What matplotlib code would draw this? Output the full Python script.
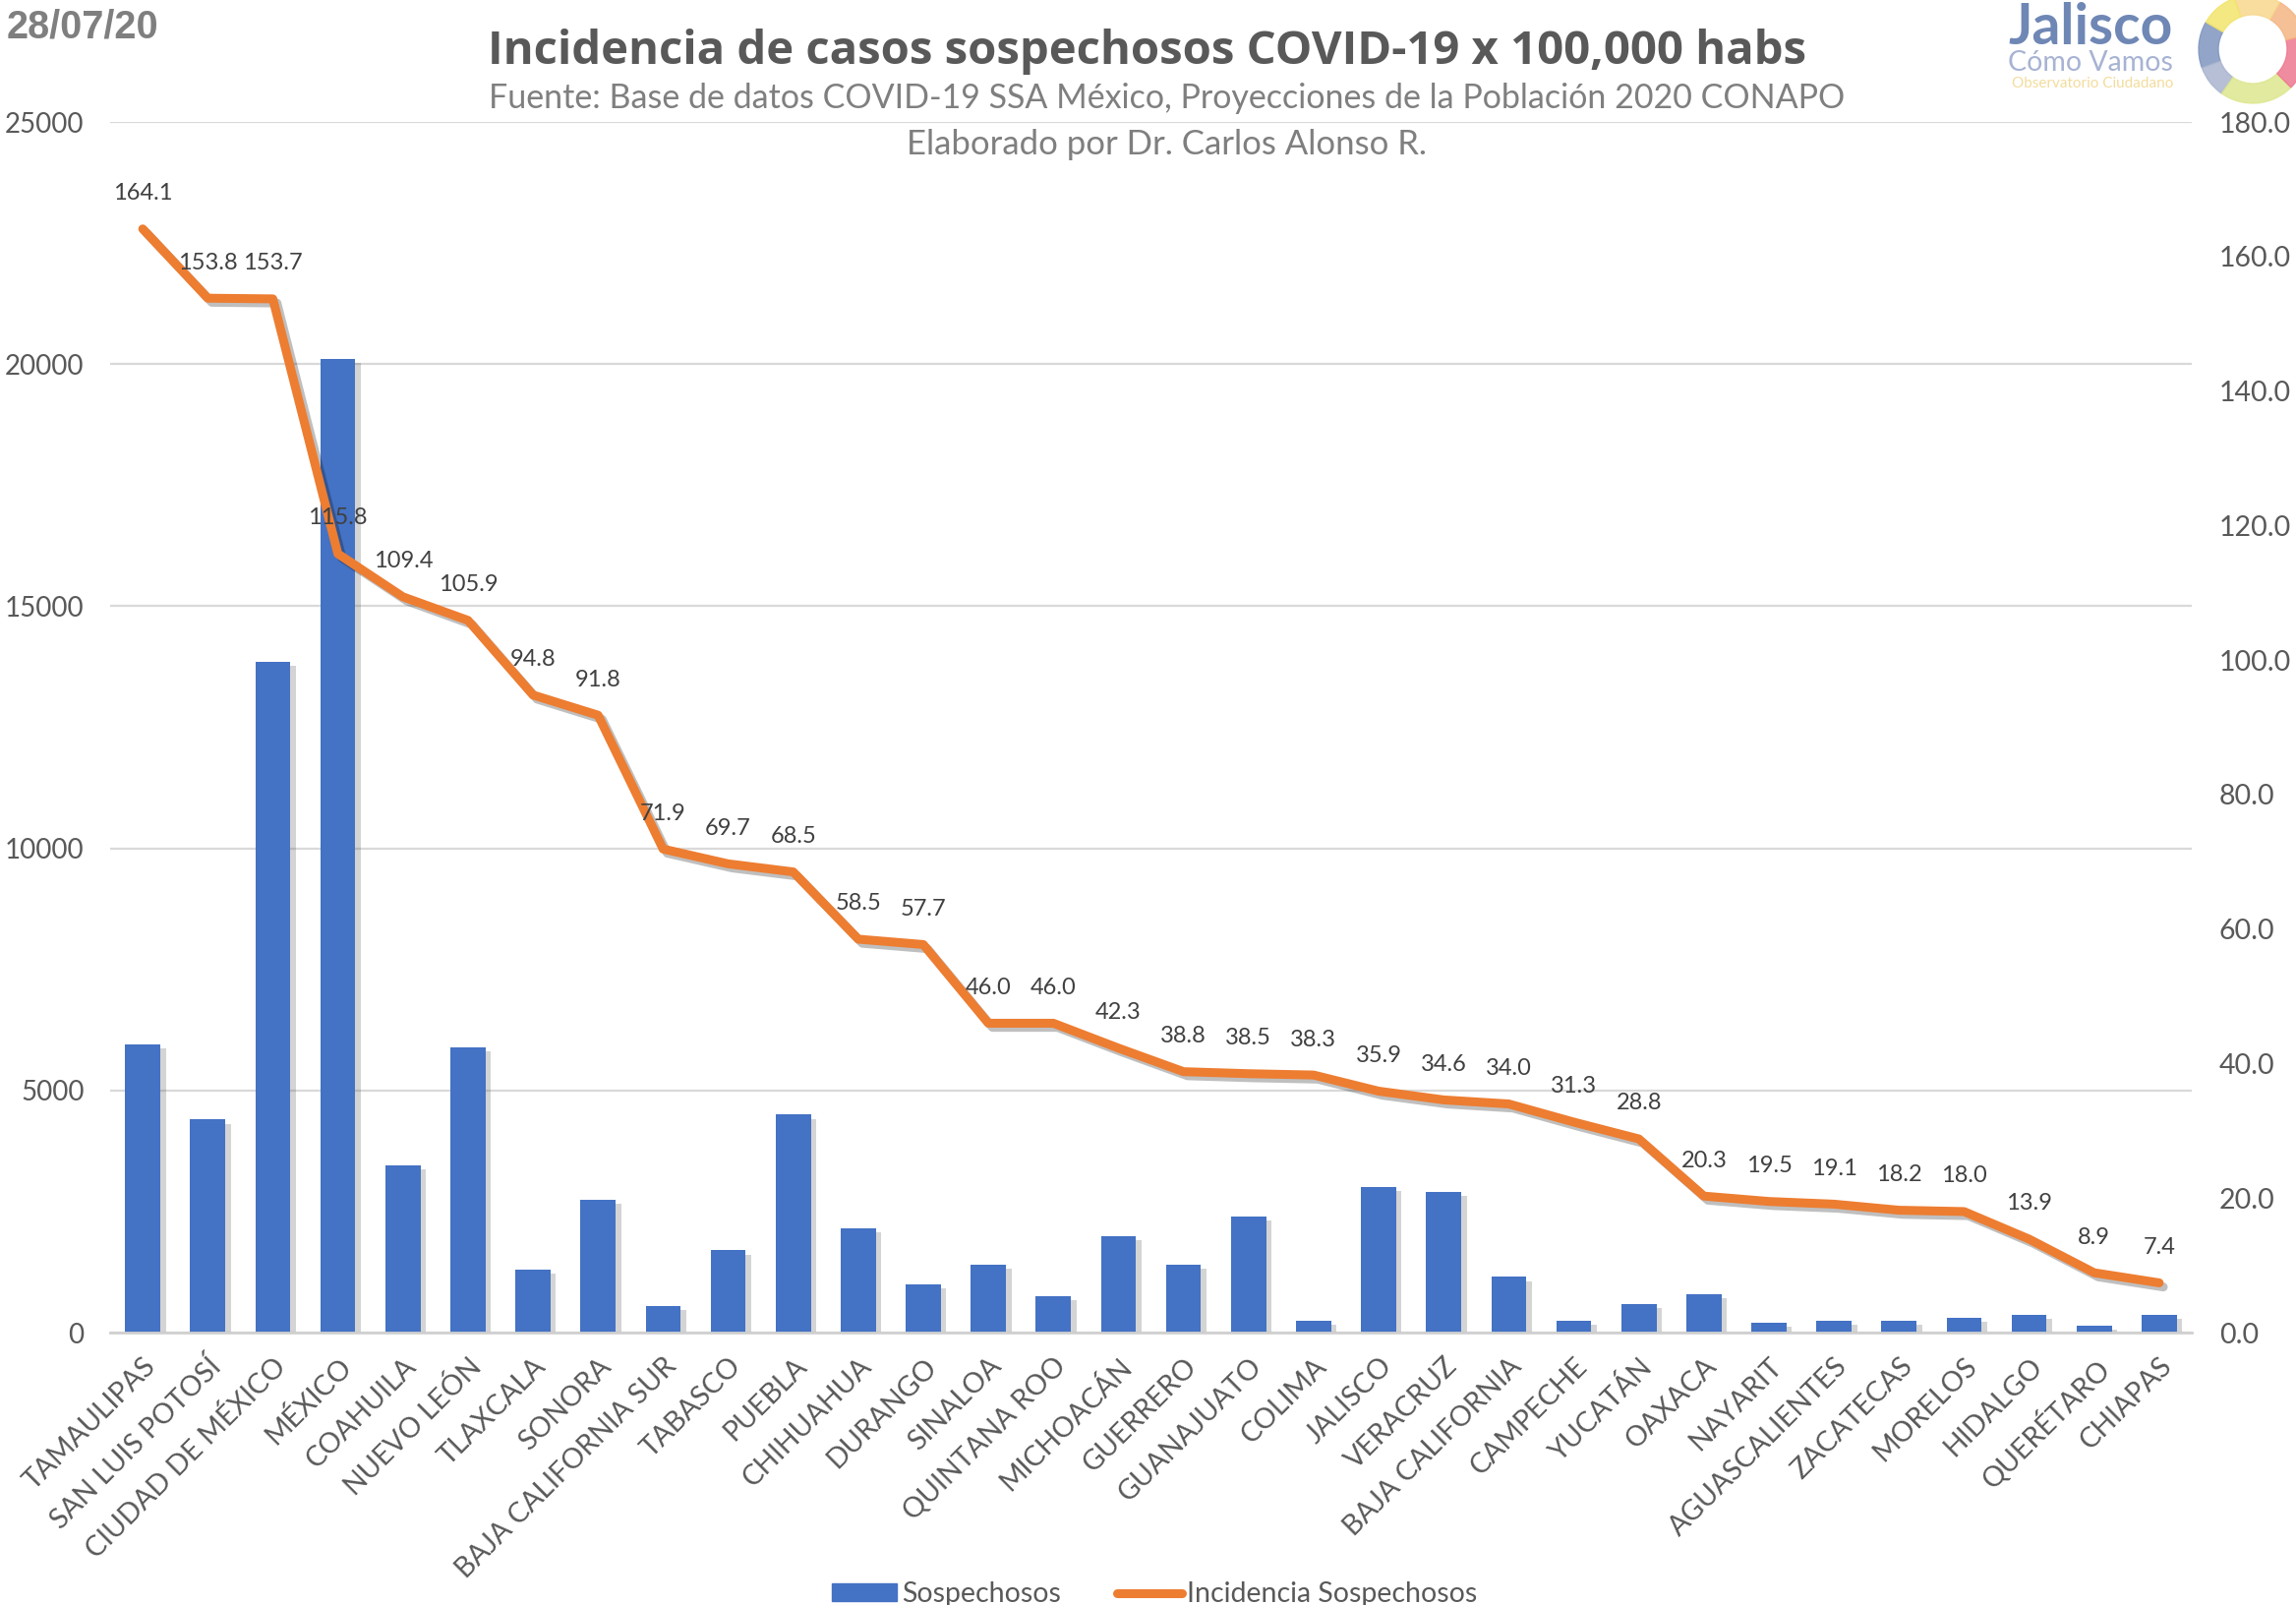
import matplotlib
matplotlib.use("Agg")
import matplotlib.pyplot as plt
import matplotlib.patheffects as pe
from matplotlib.patches import Wedge
from matplotlib.lines import Line2D
from matplotlib.patches import Patch
import numpy as np

# data
estados = ['TAMAULIPAS', 'SAN LUIS POTOSÍ', 'CIUDAD DE MÉXICO', 'MÉXICO', 'COAHUILA',
           'NUEVO LEÓN', 'TLAXCALA', 'SONORA', 'BAJA CALIFORNIA SUR', 'TABASCO',
           'PUEBLA', 'CHIHUAHUA', 'DURANGO', 'SINALOA', 'QUINTANA ROO', 'MICHOACÁN',
           'GUERRERO', 'GUANAJUATO', 'COLIMA', 'JALISCO', 'VERACRUZ', 'BAJA CALIFORNIA',
           'CAMPECHE', 'YUCATÁN', 'OAXACA', 'NAYARIT', 'AGUASCALIENTES', 'ZACATECAS',
           'MORELOS', 'HIDALGO', 'QUERÉTARO', 'CHIAPAS']
sospechosos = [5950, 4400, 13850, 20100, 3450, 5900, 1300, 2750, 550, 1700,
               4500, 2150, 1000, 1400, 750, 2000, 1400, 2400, 250, 3000,
               2900, 1150, 250, 600, 800, 200, 250, 250, 300, 360, 150, 360]
incidencia = [164.1, 153.8, 153.7, 115.8, 109.4, 105.9, 94.8, 91.8, 71.9, 69.7,
              68.5, 58.5, 57.7, 46.0, 46.0, 42.3, 38.8, 38.5, 38.3, 35.9,
              34.6, 34.0, 31.3, 28.8, 20.3, 19.5, 19.1, 18.2, 18.0, 13.9, 8.9, 7.4]
left_ticks = [0, 5000, 10000, 15000, 20000, 25000]
right_ticks = [0, 20, 40, 60, 80, 100, 120, 140, 160, 180]

BLUE = '#4472C4'
ORANGE = '#ED7D31'
GRAY = '#595959'

plt.rcParams['font.family'] = ['Lato', 'DejaVu Sans']

fig = plt.figure(figsize=(23.35, 16.32), dpi=100)
ax = fig.add_axes([0.048, 0.1697, 0.9066, 0.7543])

x = np.arange(len(estados))
bars = ax.bar(x, sospechosos, width=0.54, color=BLUE, zorder=2)
for b in bars:
    b.set_path_effects([pe.SimplePatchShadow(offset=(4, -3), alpha=0.25, shadow_rgbFace='#555555'),
                        pe.Normal()])

ax.set_xlim(-0.5, len(estados) - 0.5)
ax.set_ylim(0, 25000)
ax.set_yticks(left_ticks)
ax.set_yticklabels([str(t) for t in left_ticks])
ax.grid(axis='y', color='#d9d9d9', linewidth=1.6)
ax.set_axisbelow(True)
for s in ['top', 'right', 'left']:
    ax.spines[s].set_visible(False)
ax.spines['bottom'].set_color('#d0d0d0')
ax.spines['bottom'].set_linewidth(2)
ax.tick_params(axis='y', length=0, labelsize=20, labelcolor=GRAY, pad=19)
ax.tick_params(axis='x', length=0, labelsize=20.5, labelcolor=GRAY, pad=15)
ax.set_xticks(x)
ax.set_xticklabels(estados, rotation=45, ha='right', rotation_mode='anchor')

ax2 = ax.twinx()
ax2.plot(x, incidencia, color=ORANGE, linewidth=6.5, solid_joinstyle='round',
         solid_capstyle='round',
         path_effects=[pe.SimpleLineShadow(offset=(3, -3), alpha=0.25), pe.Normal()])
ax2.set_ylim(0, 180)
ax2.set_yticks(right_ticks)
ax2.set_yticklabels([f'{t:.1f}' for t in right_ticks])
ax2.tick_params(axis='y', length=0, labelsize=20.5, labelcolor=GRAY, pad=20)
for s in ax2.spines.values():
    s.set_visible(False)

for xi, v in zip(x, incidencia):
    ax2.annotate(f'{v:.1f}', (xi, v), xytext=(0, 26), textcoords='offset points',
                 ha='center', va='center', fontsize=17, color='#404040')

# titles
fig.text(0.003, 0.983, '28/07/20', family='Liberation Sans', weight='bold',
         fontsize=28.5, color='#7f7f7f', ha='left', va='center')
fig.text(0.4995, 0.968, 'Incidencia de casos sospechosos COVID-19 x 100,000 habs',
         family='Open Sans', weight='bold', fontsize=34, color=GRAY, ha='center', va='center')
fig.text(0.508, 0.939, 'Fuente: Base de datos COVID-19 SSA México, Proyecciones de la Población 2020 CONAPO',
         fontsize=24.5, color='#7f7f7f', ha='center', va='center')
fig.text(0.508, 0.910, 'Elaborado por Dr. Carlos Alonso R.',
         fontsize=25, color='#7f7f7f', ha='center', va='center')

# logo
fig.text(0.9465, 0.9825, 'Jalisco', weight='bold', fontsize=41, color='#6f87b5',
         ha='right', va='center')
fig.text(0.9465, 0.961, 'Cómo Vamos', fontsize=20.5, color='#a7b3d3', ha='right', va='center')
fig.text(0.9465, 0.948, 'Observatorio Ciudadano', fontsize=11, color='#f3dc9c',
         ha='right', va='center')
cx, cy, r, w = 22.91, 15.82, 0.55, 0.20
ring = [(150, 200, '#7f95bf'), (200, 235, '#a9b4cf'), (235, 315, '#dde78f'),
        (-45, 15, '#ee7890'), (15, 60, '#f4b583'), (60, 110, '#f7d88e'),
        (110, 150, '#f3e46c')]
for t1, t2, c in ring:
    fig.add_artist(Wedge((cx, cy), r, t1, t2, width=w, color=c, alpha=0.85,
                         transform=fig.dpi_scale_trans))

# legend
handles = [Patch(color=BLUE, label='Sospechosos'),
           Line2D([0], [0], color=ORANGE, linewidth=6.5, solid_capstyle='round',
                  label='Incidencia Sospechosos')]
fig.legend(handles=handles, loc='lower center', bbox_to_anchor=(0.503, -0.017), ncol=2,
           frameon=False, fontsize=20.5, handlelength=2.3, handleheight=0.55,
           columnspacing=2.0, handletextpad=0.2, labelcolor=GRAY)

fig.savefig('out.png', dpi=100)
